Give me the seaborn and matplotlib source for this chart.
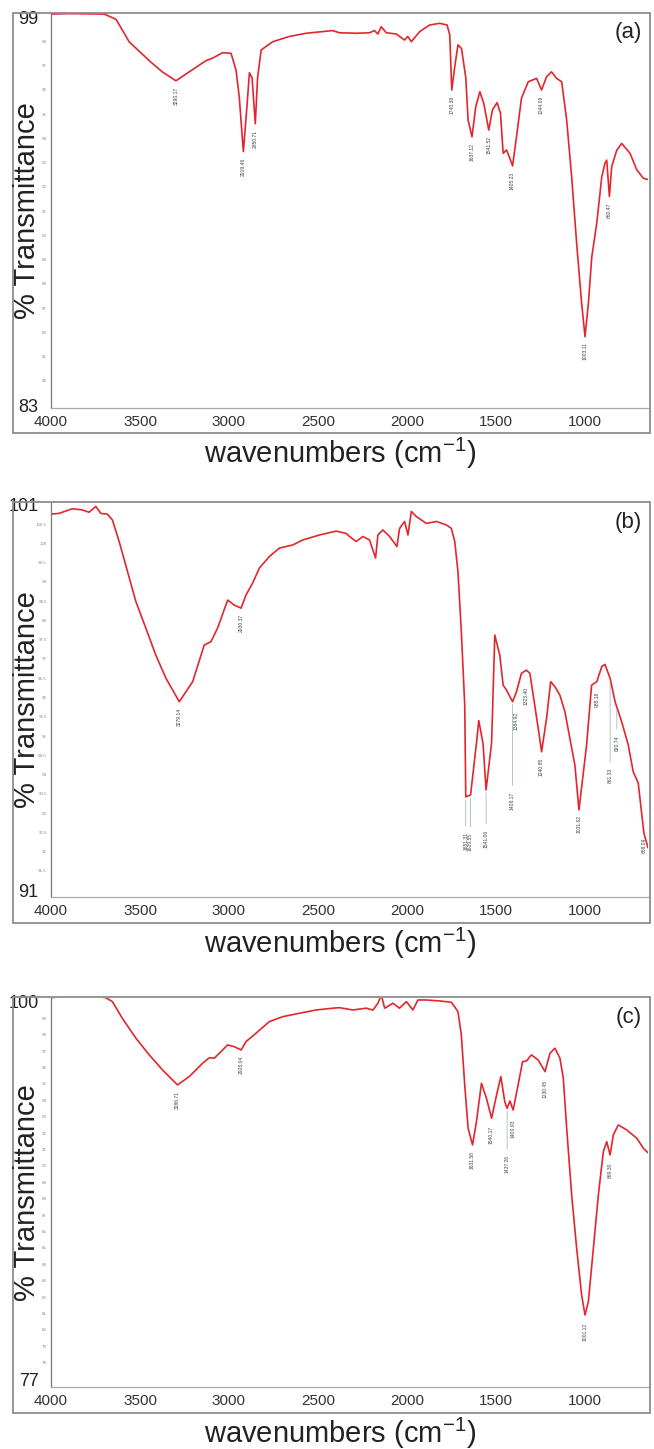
import numpy as np
import matplotlib
matplotlib.use("Agg")
import matplotlib.pyplot as plt
import seaborn as sns
from matplotlib.patches import Rectangle

# ---- spectrum (a) ----
wn_a = [4000, 3900, 3800, 3700, 3634, 3561, 3448, 3375, 3298, 3223, 3129, 3093, 3035, 2988,
        2960, 2942, 2919, 2900, 2885, 2870, 2852, 2839, 2819, 2754, 2660, 2566, 2418, 2379,
        2285, 2210, 2182, 2163, 2144, 2116, 2060, 2013, 1995, 1975, 1928, 1872, 1816, 1774,
        1759, 1748, 1731, 1713, 1693, 1669, 1656, 1634, 1613, 1590, 1568, 1540, 1519, 1493,
        1474, 1459, 1440, 1421, 1406, 1384, 1356, 1318, 1271, 1243, 1215, 1187, 1159, 1130,
        1102, 1074, 1046, 1018, 999, 980, 961, 933, 905, 887, 877, 862, 849, 821, 793, 746,
        708, 671, 645]
t_a = [99.12, 99.14, 99.13, 99.12, 98.9, 97.98, 97.2, 96.74, 96.37, 96.74, 97.2, 97.3, 97.53,
       97.5, 96.8, 95.7, 93.45, 95.2, 96.7, 96.5, 94.6, 96.5, 97.64, 97.98, 98.2, 98.33, 98.44,
       98.35, 98.33, 98.35, 98.44, 98.3, 98.6, 98.35, 98.3, 98.05, 98.2, 97.98, 98.4, 98.67,
       98.74, 98.67, 98.26, 95.99, 96.95, 97.85, 97.7, 96.5, 94.75, 94.06, 95.3, 95.92, 95.44,
       94.34, 95.17, 95.47, 95.03, 93.38, 93.52, 93.17, 92.86, 94.06, 95.65, 96.33, 96.47,
       95.99, 96.54, 96.74, 96.47, 96.33, 94.75, 92.41, 89.67, 87.2, 85.82, 87.2, 89.1, 90.5,
       92.4, 92.97, 93.1, 91.6, 92.83, 93.5, 93.79, 93.38, 92.7, 92.35, 92.3]

# ---- spectrum (b) ----
wn_b = [4000, 3955, 3880, 3824, 3786, 3748, 3720, 3683, 3655, 3617, 3570, 3523, 3467, 3411,
        3354, 3279, 3204, 3139, 3101, 3064, 3007, 2970, 2932, 2904, 2867, 2829, 2773, 2716,
        2642, 2585, 2491, 2397, 2341, 2322, 2285, 2247, 2210, 2176, 2163, 2135, 2097, 2056,
        2041, 2013, 1994, 1975, 1947, 1891, 1834, 1778, 1750, 1731, 1713, 1694, 1675, 1669,
        1642, 1607, 1596, 1572, 1555, 1524, 1506, 1478, 1459, 1440, 1421, 1406, 1384, 1356,
        1328, 1309, 1290, 1262, 1243, 1215, 1192, 1168, 1140, 1112, 1084, 1056, 1033, 990,
        962, 933, 905, 887, 858, 830, 793, 756, 728, 700, 668, 645]
t_b = [100.76, 100.78, 100.9, 100.87, 100.81, 100.96, 100.78, 100.76, 100.61, 100.05, 99.27,
       98.49, 97.8, 97.1, 96.5, 95.89, 96.41, 97.36, 97.45, 97.8, 98.53, 98.4, 98.32, 98.66,
       98.97, 99.36, 99.66, 99.88, 99.96, 100.09, 100.22, 100.32, 100.26, 100.18, 100.05,
       100.18, 100.09, 99.62, 100.22, 100.35, 100.18, 99.92, 100.39, 100.57, 100.22, 100.83,
       100.7, 100.52, 100.57, 100.48, 100.39, 100.05, 99.27, 97.71, 95.81, 93.42, 93.47, 94.9,
       95.4, 94.8, 93.6, 94.82, 97.62, 97.1, 96.32, 96.19, 96.02, 95.89, 96.15, 96.63, 96.71,
       96.63, 96.06, 95.2, 94.59, 95.46, 96.41, 96.28, 96.06, 95.63, 94.94, 94.25, 93.08,
       94.77, 96.32, 96.41, 96.8, 96.86, 96.5, 95.89, 95.37, 94.77, 94.07, 93.78, 92.48, 92.1]

# ---- spectrum (c) ----
wn_c = [4000, 3880, 3767, 3692, 3655, 3599, 3523, 3448, 3373, 3289, 3223, 3148, 3110, 3082,
        3045, 3007, 2970, 2932, 2904, 2848, 2773, 2698, 2604, 2510, 2416, 2379, 2304, 2228,
        2191, 2163, 2144, 2125, 2078, 2041, 2003, 1966, 1938, 1891, 1816, 1750, 1713, 1694,
        1675, 1656, 1631, 1609, 1581, 1553, 1524, 1496, 1472, 1450, 1437, 1421, 1403, 1375,
        1350, 1328, 1300, 1262, 1224, 1196, 1168, 1140, 1121, 1102, 1074, 1046, 1018, 999, 980,
        952, 924, 896, 877, 858, 840, 812, 765, 708, 671, 645]
t_c = [100.26, 100.38, 100.37, 100.26, 100.02, 99.0, 97.79, 96.77, 95.85, 94.94, 95.45, 96.26,
       96.6, 96.57, 96.97, 97.38, 97.27, 97.07, 97.58, 98.09, 98.8, 99.1, 99.31, 99.51, 99.62,
       99.65, 99.51, 99.62, 99.5, 99.92, 100.43, 99.62, 99.92, 99.62, 100.02, 99.51, 100.12,
       100.12, 100.06, 99.98, 99.41, 97.99, 94.94, 92.3, 91.28, 92.7, 95.04, 94.13, 92.91,
       94.33, 95.45, 93.92, 93.52, 93.96, 93.41, 94.94, 96.36, 96.4, 96.77, 96.46, 95.75,
       96.87, 97.18, 96.57, 95.35, 92.3, 88.23, 84.98, 82.13, 80.91, 81.73, 84.98, 88.23,
       90.87, 91.48, 90.67, 91.89, 92.5, 92.2, 91.69, 91.08, 90.8]

# peak labels: (wavenumber, text)
peaks_a = [(3298, "3290.17"), (2919, "2919.46"), (2852, "2850.71"), (1748, "1740.38"),
           (1634, "1637.12"), (1540, "1541.52"), (1406, "1405.23"), (1243, "1244.09"),
           (999, "1003.11"), (862, "860.47")]
peaks_b = [(3279, "3279.14"), (2932, "2930.37"), (1669, "1651.31"), (1642, "1629.55"),
           (1555, "1541.06"), (1406, "1408.17"), (1384, "1384.92"), (1328, "1323.40"),
           (1243, "1240.85"), (1033, "1031.62"), (933, "935.18"), (858, "861.33"),
           (820, "820.74"), (668, "668.09")]
peaks_c = [(3289, "3286.71"), (2932, "2928.04"), (1631, "1631.58"), (1524, "1540.17"),
           (1437, "1437.26"), (1403, "1400.93"), (1224, "1230.45"), (999, "1001.12"),
           (858, "869.30")]
# vertical offsets (px) of the peak labels below the curve
drops_b = [6, 6, 35, 38, 40, 90, 20, 17, 6, 5, 10, 90, 28, 5]
drops_c = [6, 6, 6, 8, 47, 10, 8, 8, 8]

xticks = [4000, 3500, 3000, 2500, 2000, 1500, 1000]

W, H = 654, 1449
fig = plt.figure(figsize=(W / 100, H / 100), dpi=100)
sns.set_theme(style="white")
plt.rcParams["font.family"] = ["Liberation Sans", "DejaVu Sans"]
plt.rcParams["mathtext.fontset"] = "custom"
plt.rcParams["mathtext.rm"] = "Liberation Sans"
plt.rcParams["mathtext.it"] = "Liberation Sans:italic"

red = "#e3262d"
ax_left, ax_right = 51, 648

panels = [
    dict(wn=wn_a, t=t_a, peaks=peaks_a, drops=None, top=13, bot=408, ylim=(82.88, 99.165),
         major=[83, 99], minor=list(range(84, 99)), tag="(a)", box=(13, 650, 13, 433), xl=453),
    dict(wn=wn_b, t=t_b, peaks=peaks_b, drops=drops_b, top=503, bot=897, ylim=(90.82, 101.05),
         major=[91, 101], minor=list(np.arange(91.5, 101, 0.5)), tag="(b)", box=(13, 650, 502, 923), xl=943),
    dict(wn=wn_c, t=t_c, peaks=peaks_c, drops=drops_c, top=998, bot=1387, ylim=(76.52, 100.24),
         major=[77, 100], minor=list(range(78, 100)), tag="(c)", box=(13, 650, 997, 1413), xl=1433),
]

for p in panels:
    ax = fig.add_axes([ax_left / W, 1 - p["bot"] / H, (ax_right - ax_left) / W, (p["bot"] - p["top"]) / H])
    sns.lineplot(x=p["wn"], y=p["t"], ax=ax, color=red, lw=1.2, estimator=None, sort=True)
    ax.set_xlim(4000, 645)
    ax.set_ylim(*p["ylim"])
    ax.set_xlabel("")
    ax.set_ylabel("")

    ax.set_xticks(xticks)
    ax.set_xticklabels([str(v) for v in xticks], fontsize=11, color="#333333")
    ax.tick_params(axis="x", direction="inout", length=4, width=0.8, color="#888888", pad=3)

    ax.set_yticks(p["major"])
    ax.set_yticklabels([f"{v:g}" for v in p["major"]], fontsize=13, color="#222222")
    ax.set_yticks(p["minor"], minor=True)
    ax.set_yticklabels([f"{v:g}" for v in p["minor"]], minor=True, fontsize=3.2, color="#888888")
    ax.tick_params(axis="y", which="major", direction="out", length=4, width=0.8, color="#666666", pad=5)
    ax.tick_params(axis="y", which="minor", direction="out", length=2, width=0.5, color="#888888", pad=1)

    for side in ["top", "right"]:
        ax.spines[side].set_visible(False)
    ax.spines["left"].set_color("#777777")
    ax.spines["bottom"].set_color("#aaaaaa")
    ax.spines["left"].set_linewidth(0.9)
    ax.spines["bottom"].set_linewidth(0.9)

    # peak labels
    for i, (pw, txt) in enumerate(p["peaks"]):
        yv = np.interp(pw, p["wn"][::-1], p["t"][::-1])
        d = p["drops"][i] if p["drops"] else 6
        arrow = dict(arrowstyle="-", lw=0.4, color="#7a9a9a") if d > 25 else None
        ax.annotate(txt, xy=(pw, yv), xytext=(0, -d), textcoords="offset pixels",
                    rotation=90, ha="center", va="top", fontsize=3.6, color="#444444",
                    arrowprops=arrow)

    ax.annotate(p["tag"], xy=(1, 1), xycoords="axes fraction", xytext=(-6, -9),
                textcoords="offset pixels", ha="right", va="top", fontsize=16, color="#222222")

    x0, x1, y0, y1 = p["box"]
    fig.add_artist(Rectangle((x0 / W, 1 - y1 / H), (x1 - x0) / W, (y1 - y0) / H,
                             transform=fig.transFigure, fill=False, edgecolor="#8c8c8c", lw=1.3))

    fig.text(27 / W, 1 - (p["top"] + p["bot"]) / 2 / H, "% Transmittance", rotation=90,
             ha="center", va="center", fontsize=21, color="#222222")
    fig.text(340 / W, 1 - p["xl"] / H, "wavenumbers (cm$^{-1}$)", ha="center", va="center",
             fontsize=21, color="#222222")

fig.savefig("out.png", dpi=100, facecolor="white")
